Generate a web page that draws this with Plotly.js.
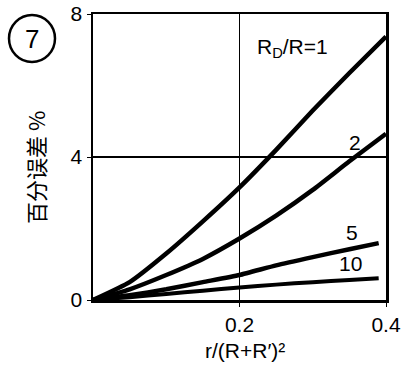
<!DOCTYPE html>
<html>
<head>
<meta charset="utf-8">
<script src="https://cdn.plot.ly/plotly-3.0.1.min.js"></script>
<style>html,body{margin:0;padding:0;background:#fff;}#chart{width:403px;height:369px;}</style>
</head>
<body>
<div id="chart"></div>
<script>
// Data
const xRatio = [0, 0.05, 0.1, 0.15, 0.2, 0.25, 0.3, 0.35, 0.4];
const errRD1 = [0, 0.5, 1.3, 2.2, 3.15, 4.2, 5.3, 6.35, 7.37];
const errRD2 = [0, 0.3, 0.7, 1.15, 1.72, 2.36, 3.08, 3.88, 4.65];
const xShort = [0, 0.05, 0.1, 0.15, 0.2, 0.25, 0.3, 0.35, 0.39];
const errRD5 = [0, 0.13, 0.3, 0.5, 0.7, 0.97, 1.2, 1.42, 1.59];
const errRD10 = [0, 0.08, 0.17, 0.26, 0.35, 0.43, 0.5, 0.56, 0.61];
const xTicks = [0.2, 0.4];
const xTickText = ['0.2', '0.4'];
const yTicks = [0, 4, 8];
const yTickText = ['0', '4', '8'];
const curveLabels = ['R<sub>D</sub>/R=1', '2', '5', '10'];

const L = 93, R = 17, T = 14, B = 69, W = 403, H = 369;
const pw = W - L - R, ph = H - T - B;
const px = x => (x - L) / pw;
const py = y => (H - B - y) / ph;

const lineStyle = w => ({color: '#000', width: w, shape: 'spline', smoothing: 0.5});
const traces = [
  {x: xRatio, y: errRD1, mode: 'lines', line: lineStyle(4.5)},
  {x: xRatio, y: errRD2, mode: 'lines', line: lineStyle(4.5)},
  {x: xShort, y: errRD5, mode: 'lines', line: lineStyle(4.5)},
  {x: xShort, y: errRD10, mode: 'lines', line: lineStyle(4)}
];

const fnt = {family: 'Liberation Sans, Arial, sans-serif', size: 21, color: '#000'};
const labelPos = [[292, 48], [355, 142], [352, 232], [350, 263]];
const annotations = curveLabels.map((t, i) => ({
  text: t, xref: 'paper', yref: 'paper', x: px(labelPos[i][0]), y: py(labelPos[i][1]),
  showarrow: false, font: fnt, xanchor: 'center', yanchor: 'middle'
}));
annotations.push({
  text: '百分误差 %', xref: 'paper', yref: 'paper', x: px(35), y: py(168),
  textangle: -90, showarrow: false,
  font: {family: 'Noto Sans CJK SC, sans-serif', size: 22, color: '#000'},
  xanchor: 'center', yanchor: 'middle'
});
annotations.push({
  text: '7', xref: 'paper', yref: 'paper', x: px(32), y: py(39),
  showarrow: false, font: {family: 'Liberation Sans, Arial, sans-serif', size: 26, color: '#000'},
  xanchor: 'center', yanchor: 'middle'
});
annotations.push({
  text: 'r/(R+R\u2032)\u00b2', xref: 'paper', yref: 'paper', x: px(245), y: py(350),
  showarrow: false, font: fnt, xanchor: 'center', yanchor: 'middle'
});

const shapes = [{
  type: 'circle', xref: 'paper', yref: 'paper',
  x0: px(9), x1: px(55), y0: py(15), y1: py(62),
  line: {color: '#000', width: 2.5}
}];

const layout = {
  width: W, height: H,
  margin: {l: L, r: R, t: T, b: B},
  paper_bgcolor: '#fff', plot_bgcolor: '#fff',
  showlegend: false,
  xaxis: {
    range: [0, 0.4], tickvals: xTicks, ticktext: xTickText,
    showgrid: true, gridcolor: '#000', gridwidth: 1.5,
    showline: true, linecolor: '#000', linewidth: 2.5, mirror: true,
    ticks: 'outside', ticklen: 4, tickcolor: '#000', zeroline: false,
    tickfont: fnt
  },
  yaxis: {
    range: [0, 8], tickvals: yTicks, ticktext: yTickText,
    showgrid: true, gridcolor: '#000', gridwidth: 1.5,
    showline: true, linecolor: '#000', linewidth: 2.5, mirror: true,
    ticks: 'outside', ticklen: 4, tickcolor: '#000', zeroline: false,
    tickfont: fnt
  },
  annotations: annotations,
  shapes: shapes
};

Plotly.newPlot('chart', traces, layout, {displayModeBar: false, staticPlot: true});
</script>
</body>
</html>
